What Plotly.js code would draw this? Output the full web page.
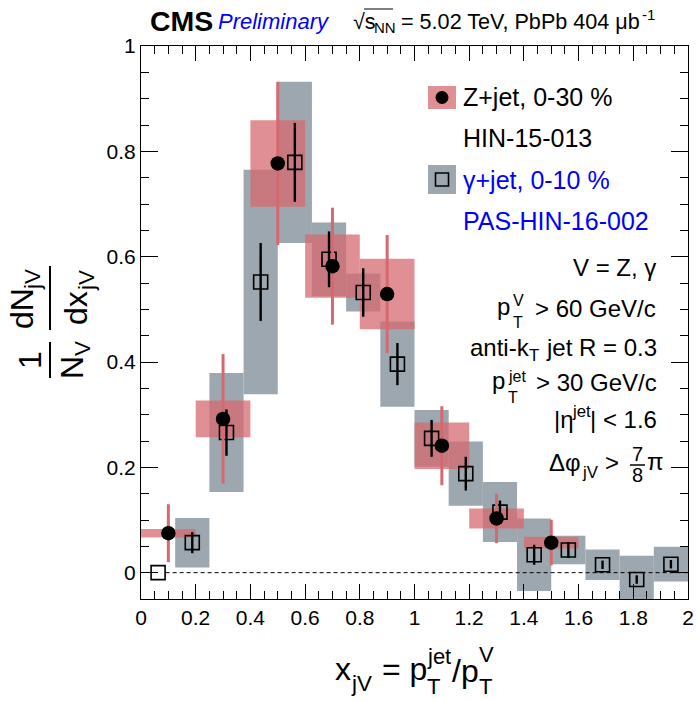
<!DOCTYPE html>
<html>
<head>
<meta charset="utf-8">
<script src="https://cdn.plot.ly/plotly-3.0.1.min.js"></script>
<style>html,body{margin:0;padding:0;background:#fff;}#chart{width:697px;height:701px;}</style>
</head>
<body>
<div id="chart"></div>
<script>
// ---------------- DATA ----------------
// Z+jet, 0-30 % (HIN-15-013), bins of width 0.2
const zX    = [0.1, 0.3, 0.5, 0.7, 0.9, 1.1, 1.3, 1.5];
const zY    = [0.075, 0.292, 0.777, 0.582, 0.529, 0.241, 0.103, 0.057];
const zStat = [0.055, 0.123, 0.155, 0.111, 0.112, 0.075, 0.047, 0.043];
const zSys  = [0.008, 0.035, 0.082, 0.060, 0.067, 0.044, 0.019, 0.011];
const zBinWidth = 0.2;

// gamma+jet, 0-10 % (PAS-HIN-16-002), bins of width 0.125
const gX    = [0.0625, 0.1875, 0.3125, 0.4375, 0.5625, 0.6875, 0.8125, 0.9375,
               1.0625, 1.1875, 1.3125, 1.4375, 1.5625, 1.6875, 1.8125, 1.9375];
const gY    = [0.0, 0.057, 0.266, 0.552, 0.779, 0.595, 0.532, 0.396,
               0.255, 0.188, 0.115, 0.034, 0.043, 0.015, -0.013, 0.016];
const gStat = [0.0, 0.020, 0.044, 0.074, 0.075, 0.053, 0.046, 0.040,
               0.035, 0.032, 0.022, 0.019, 0.015, 0.008, 0.008, 0.008];
const gSys  = [0.0, 0.047, 0.113, 0.213, 0.153, 0.070, 0.036, 0.081,
               0.054, 0.061, 0.057, 0.069, 0.027, 0.029, 0.045, 0.033];
const gBinWidth = 0.125;

const xTickVals = [0, 0.2, 0.4, 0.6, 0.8, 1, 1.2, 1.4, 1.6, 1.8, 2];
const yTickVals = [0, 0.2, 0.4, 0.6, 0.8, 1];

// ---------------- STYLE ----------------
const FONT = 'Liberation Sans, Arial, Helvetica, sans-serif';
const RED_BOX = 'rgba(213,105,110,0.74)';
const RED_LINE = 'rgb(214,104,112)';
const GRAY_BOX = 'rgb(157,167,175)';
const BLUE = 'rgb(0,0,255)';

const W = 697, H = 701;
const M = {l: 141, r: 9, t: 46, b: 102};
const PW = W - M.l - M.r, PH = H - M.t - M.b;
const px = v => (v - M.l) / PW;       // pixel x -> paper x
const py = v => (H - M.b - v) / PH;   // pixel y -> paper y

// ---------------- TRACES ----------------
const gammaBoxes = {
  type: 'bar', x: gX,
  y: gSys.map(s => 2 * s),
  base: gY.map((v, i) => v - gSys[i]),
  width: gBinWidth,
  marker: {color: GRAY_BOX, line: {width: 0}},
  showlegend: false, hoverinfo: 'skip'
};
const zBoxes = {
  type: 'bar', x: zX,
  y: zSys.map(s => 2 * s),
  base: zY.map((v, i) => v - zSys[i]),
  width: zBinWidth,
  marker: {color: RED_BOX, line: {width: 0}},
  showlegend: false, hoverinfo: 'skip'
};
const gammaPts = {
  type: 'scatter', mode: 'markers', x: gX, y: gY,
  marker: {symbol: 'square-open', size: 14, color: 'black', line: {width: 1.6, color: 'black'}},
  error_y: {type: 'data', array: gStat, visible: true, color: 'black', thickness: 2.4, width: 0},
  showlegend: false, cliponaxis: true
};
const zPts = {
  type: 'scatter', mode: 'markers', x: zX, y: zY,
  marker: {symbol: 'circle', size: 14.5, color: 'black'},
  error_y: {type: 'data', array: zStat, visible: true, color: RED_LINE, thickness: 3, width: 0},
  showlegend: false, cliponaxis: true
};

// ---------------- ANNOTATIONS ----------------
function ann(text, x, y, size, opts) {
  return Object.assign({
    text: text, xref: 'paper', yref: 'paper', x: px(x), y: py(y),
    xanchor: 'left', yanchor: 'middle', showarrow: false,
    font: {family: FONT, size: size || 25, color: 'black'}
  }, opts || {});
}
const R = {xanchor: 'right'};
const C = {xanchor: 'center'};
const ROT = {xanchor: 'center', textangle: -90};
const annotations = [
  // header
  ann('<b>CMS</b>', 148, 21, 28.5),
  ann('<i>Preliminary</i>', 216, 22, 22, {font: {family: FONT, size: 22, color: BLUE}}),
  ann('√s', 351, 22, 21.6),
  ann('NN', 372, 28, 15),
  ann('= 5.02 TeV, PbPb 404 μb', 642, 22, 21.6, R),
  ann('-1', 640, 14, 15),
  // legend
  ann('Z+jet, 0-30 %', 461, 97),
  ann('HIN-15-013', 461, 138),
  ann('γ+jet, 0-10 %', 461, 180, 25, {font: {family: FONT, size: 25, color: BLUE}}),
  ann('PAS-HIN-16-002', 461, 221, 25, {font: {family: FONT, size: 25, color: BLUE}}),
  // selection text
  ann('V = Z, γ', 658, 267, 24, R),
  ann('> 60 GeV/c', 658, 308, 24, R),
  ann('p', 512, 306, 24, R),
  ann('V', 511, 300, 16),
  ann('T', 511, 322, 16),
  ann('anti-k', 532, 347, 24, R),
  ann('T', 527, 356, 16.8),
  ann('jet R = 0.3', 659, 347, 24, R),
  ann('> 30 GeV/c', 659, 382, 24, R),
  ann('p', 507, 380, 24, R),
  ann('jet', 506, 376, 16),
  ann('T', 506, 397, 16),
  ann('| < 1.6', 659, 420, 24, R),
  ann('jet', 593, 411, 16.8, R),
  ann('|η', 576, 420, 24, R),
  ann('Δφ', 583, 462, 24, R),
  ann('jV', 580, 472, 16.8),
  ann('>', 621, 462, 24, R),
  ann('7', 637.5, 454, 20, C),
  ann('8', 637.5, 475, 20, C),
  ann('π', 645, 461, 24),
  // x title pieces
  ann('x', 333, 669, 32),
  ann('jV', 349, 683, 22.4),
  ann('= p', 380, 669, 32),
  ann('jet', 425, 656, 22),
  ann('T', 425, 686, 22),
  ann('/p', 450, 671, 32),
  ann('V', 477, 654, 22),
  ann('T', 477, 686, 22),
  // y title pieces (rotated)
  ann('dN', 22, 309, 32, ROT),
  ann('jV', 32, 279, 22.4, ROT),
  ann('dx', 76, 308, 32, ROT),
  ann('jV', 86, 281, 22.4, ROT),
  ann('1', 30, 360, 32, ROT),
  ann('N', 72, 368, 32, ROT),
  ann('V', 82, 349, 22.4, ROT)
];

// ---------------- SHAPES ----------------
function pline(x0, y0, x1, y1, w) {
  return {type: 'line', xref: 'paper', yref: 'paper', x0: px(x0), y0: py(y0), x1: px(x1), y1: py(y1),
          line: {color: 'black', width: w || 1.5}};
}
const shapes = [
  // dashed zero line (data coordinates)
  {type: 'line', xref: 'x', yref: 'y', x0: 0.09, x1: 2, y0: 0, y1: 0, layer: 'above',
   line: {color: 'black', width: 1, dash: '4px,3px'}},
  // legend boxes and symbols
  {type: 'rect', xref: 'paper', yref: 'paper', x0: px(428), x1: px(456), y0: py(86), y1: py(109),
   fillcolor: RED_BOX, line: {width: 0}},
  {type: 'circle', xref: 'paper', yref: 'paper', x0: px(435.5), x1: px(448.5), y0: py(91), y1: py(104),
   fillcolor: 'black', line: {width: 0}},
  {type: 'rect', xref: 'paper', yref: 'paper', x0: px(428), x1: px(456), y0: py(165), y1: py(194),
   fillcolor: GRAY_BOX, line: {width: 0}},
  {type: 'rect', xref: 'paper', yref: 'paper', x0: px(435.5), x1: px(448.5), y0: py(173), y1: py(186),
   fillcolor: 'rgba(0,0,0,0)', line: {color: 'black', width: 1.6}},
  // sqrt overline
  pline(364, 9, 393, 9, 1),
  // fraction 7/8
  pline(630, 465, 645, 465, 1.5),
  // y-title fraction bars
  pline(50, 266, 50, 330, 2),
  pline(50, 342, 50, 378, 2)
];

// ---------------- LAYOUT ----------------
const axisCommon = {
  showline: true, linecolor: 'black', linewidth: 1, mirror: 'allticks',
  ticks: 'inside', tickcolor: 'black', tickwidth: 1,
  showgrid: false, zeroline: false, fixedrange: true,
  tickfont: {family: FONT, size: 21, color: 'black'}
};
const layout = {
  width: W, height: H,
  margin: M,
  font: {family: FONT, size: 21, color: 'black'},
  paper_bgcolor: 'white', plot_bgcolor: 'white',
  barmode: 'overlay', showlegend: false,
  xaxis: Object.assign({}, axisCommon, {
    range: [0, 2], tickmode: 'array', tickvals: xTickVals, ticklen: 15,
    minor: {dtick: 0.05, tick0: 0, ticklen: 8, ticks: 'inside', tickcolor: 'black', tickwidth: 1}
  }),
  yaxis: Object.assign({}, axisCommon, {
    range: [-0.05, 1], tickmode: 'array', tickvals: yTickVals, ticklen: 17,
    minor: {dtick: 0.05, tick0: 0, ticklen: 8, ticks: 'inside', tickcolor: 'black', tickwidth: 1}
  }),
  annotations: annotations,
  shapes: shapes
};

Plotly.newPlot('chart', [gammaBoxes, zBoxes, gammaPts, zPts], layout, {displayModeBar: false, staticPlot: true});
</script>
</body>
</html>
